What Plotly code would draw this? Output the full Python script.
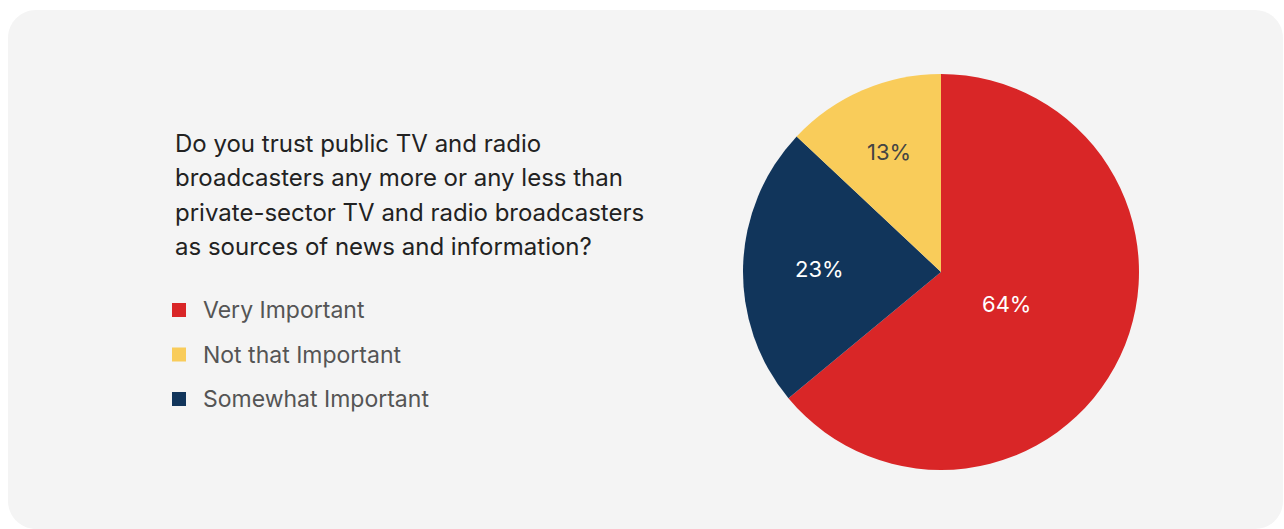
import math
import plotly.graph_objects as go

W, H = 1284, 529

# Survey answers, in clockwise slice order starting at 12 o'clock
slice_labels = ["Very Important", "Somewhat Important", "Not that Important"]
slice_values = [64, 23, 13]
slice_colors = ["#D92627", "#11355B", "#F9CC5A"]
slice_text_colors = ["#FFFFFF", "#FFFFFF", "#444444"]
# how far out along each slice's bisector its percentage label sits (share of radius)
label_radius_frac = [0.365, 0.615, 0.665]

# Legend entries in their listed order
legend_labels = ["Very Important", "Not that Important", "Somewhat Important"]

question_lines = [
    "Do you trust public TV and radio",
    "broadcasters any more or any less than",
    "private-sector TV and radio broadcasters",
    "as sources of news and information?",
]

FONT = "Inter, 'Noto Sans', sans-serif"


def px(x):
    return x / W


def py(y):
    return 1 - y / H


def rounded_rect_path(x0, y0, x1, y1, r):
    k = 0.5523 * r
    pts = [
        ("M", [(x0 + r, y0)]),
        ("L", [(x1 - r, y0)]),
        ("C", [(x1 - r + k, y0), (x1, y0 + r - k), (x1, y0 + r)]),
        ("L", [(x1, y1 - r)]),
        ("C", [(x1, y1 - r + k), (x1 - r + k, y1), (x1 - r, y1)]),
        ("L", [(x0 + r, y1)]),
        ("C", [(x0 + r - k, y1), (x0, y1 - r + k), (x0, y1 - r)]),
        ("L", [(x0, y0 + r)]),
        ("C", [(x0, y0 + r - k), (x0 + r - k, y0), (x0 + r, y0)]),
    ]
    out = []
    for cmd, coords in pts:
        out.append(cmd + " ".join(f"{px(a):.5f},{py(b):.5f}" for a, b in coords))
    return " ".join(out) + " Z"


# Pie geometry in pixels
cx, cy, R = 941, 272, 198

fig = go.Figure()
fig.add_trace(
    go.Pie(
        labels=slice_labels,
        values=slice_values,
        sort=False,
        direction="clockwise",
        rotation=0,
        marker=dict(colors=slice_colors, line=dict(width=0)),
        textinfo="none",
        hoverinfo="skip",
        showlegend=False,
        domain=dict(x=[px(cx - R), px(cx + R)], y=[py(cy + R), py(cy - R)]),
    )
)

shapes = [
    dict(
        type="path",
        xref="paper",
        yref="paper",
        path=rounded_rect_path(8, 10, 1283, 529, 28),
        fillcolor="#F4F4F4",
        line=dict(width=0),
        layer="below",
    )
]

annotations = []

# Percentage labels placed on each slice's bisector
total = sum(slice_values)
cum = 0
for val, col, frac in zip(slice_values, slice_text_colors, label_radius_frac):
    mid = (cum + val / 2) / total * 2 * math.pi
    cum += val
    lx = cx + frac * R * math.sin(mid)
    ly = cy - frac * R * math.cos(mid)
    annotations.append(
        dict(
            x=px(lx),
            y=py(ly + 1),
            xref="paper",
            yref="paper",
            xanchor="center",
            yanchor="middle",
            text=f"{val}%",
            showarrow=False,
            font=dict(family=FONT, size=22, color=col),
        )
    )

for i, line in enumerate(question_lines):
    annotations.append(
        dict(
            x=px(173),
            y=py(143 + i * 34.5),
            xref="paper",
            yref="paper",
            xanchor="left",
            yanchor="middle",
            text=line,
            showarrow=False,
            font=dict(family=FONT, size=24, color="#222222"),
        )
    )

color_of = dict(zip(slice_labels, slice_colors))
for i, lab in enumerate(legend_labels):
    yc = 310 + i * 44.5
    shapes.append(
        dict(
            type="rect",
            xref="paper",
            yref="paper",
            x0=px(172),
            x1=px(186),
            y0=py(yc - 7),
            y1=py(yc + 7),
            fillcolor=color_of[lab],
            line=dict(width=0),
        )
    )
    annotations.append(
        dict(
            x=px(201),
            y=py(yc),
            xref="paper",
            yref="paper",
            xanchor="left",
            yanchor="middle",
            text=lab,
            showarrow=False,
            font=dict(family=FONT, size=23, color="#555555"),
        )
    )

fig.update_layout(
    width=W,
    height=H,
    margin=dict(l=0, r=0, t=0, b=0),
    paper_bgcolor="#FFFFFF",
    plot_bgcolor="#FFFFFF",
    shapes=shapes,
    annotations=annotations,
    showlegend=False,
)

fig.write_html("out.html", config={"displayModeBar": False})
